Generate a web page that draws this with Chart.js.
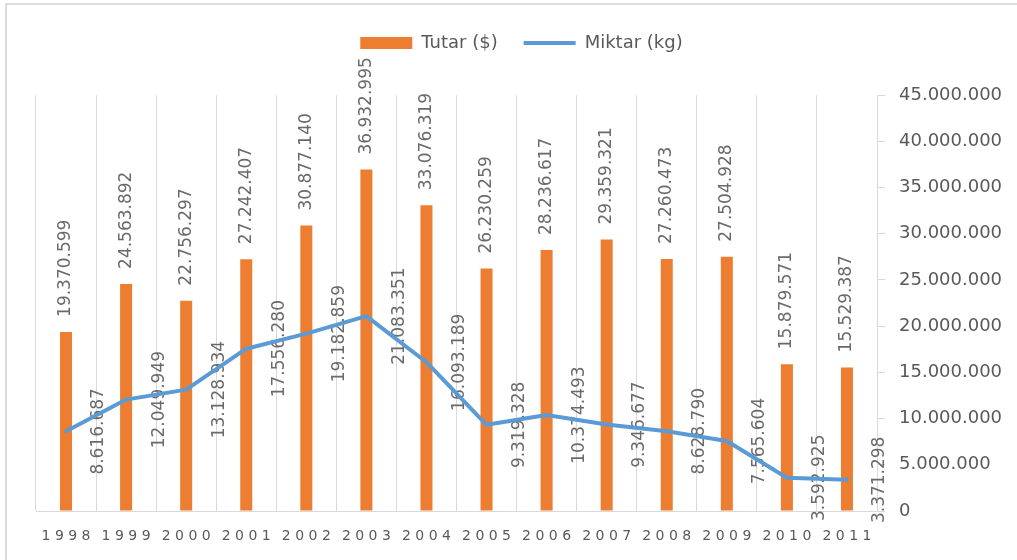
<!DOCTYPE html>
<html>
<head>
<meta charset="utf-8">
<script src="https://cdn.jsdelivr.net/npm/chart.js@4.4.1/dist/chart.umd.min.js"></script>
<style>
html,body{margin:0;padding:0;background:#fff;}
#wrap{width:1017px;height:560px;position:relative;}
</style>
</head>
<body>
<div id="wrap"><canvas id="c" width="1017" height="560"></canvas></div>
<script>
const categories = ['1998','1999','2000','2001','2002','2003','2004','2005','2006','2007','2008','2009','2010','2011'];
const tutar = [19370599, 24563892, 22756297, 27242407, 30877140, 36932995, 33076319, 26230259, 28236617, 29359321, 27260473, 27504928, 15879571, 15529387];
const miktar = [8616687, 12049949, 13128934, 17556280, 19182859, 21083351, 16093189, 9319328, 10374493, 9346677, 8628790, 7565604, 3592925, 3371298];
const seriesNames = ['Tutar ($)', 'Miktar (kg)'];

function fmt(v){ return String(Math.round(v)).replace(/\B(?=(\d{3})+(?!\d))/g, '.'); }

const FONT = 'DejaVu Sans';
const GRID = '#d9d9d9';
const TXT = '#595959';

const framePlugin = {
  id: 'frame',
  beforeDraw(chart){
    const ctx = chart.ctx;
    ctx.save();
    ctx.fillStyle = '#fff';
    ctx.fillRect(0,0,chart.width,chart.height);
    ctx.fillStyle = '#dcdcdc';
    ctx.fillRect(5,3,chart.width-5,2);
    ctx.fillRect(5,3,2,chart.height-3);
    ctx.restore();
  }
};

const labelPlugin = {
  id: 'vlabels',
  beforeDatasetsDraw(chart){
    const ctx = chart.ctx;
    ctx.save();
    ctx.font = '17px "' + FONT + '"';
    ctx.fillStyle = '#6a6a6a';
    ctx.textBaseline = 'middle';
    const barMeta = chart.getDatasetMeta(0);
    barMeta.data.forEach((el, i) => {
      ctx.save();
      ctx.translate(el.x, el.y - 15);
      ctx.rotate(-Math.PI/2);
      ctx.textAlign = 'left';
      ctx.fillText(fmt(tutar[i]), 0, 0);
      ctx.restore();
    });
    const lineMeta = chart.getDatasetMeta(1);
    lineMeta.data.forEach((el, i) => {
      ctx.save();
      ctx.translate(el.x + 33, el.y);
      ctx.rotate(-Math.PI/2);
      ctx.textAlign = 'center';
      ctx.fillText(fmt(miktar[i]), 0, 0);
      ctx.restore();
    });
    ctx.restore();
  }
};

new Chart(document.getElementById('c'), {
  type: 'bar',
  data: {
    labels: categories,
    datasets: [
      {
        type: 'bar',
        label: seriesNames[0],
        data: tutar,
        backgroundColor: '#ed7d31',
        borderWidth: 0,
        categoryPercentage: 1,
        barPercentage: 0.2,
        yAxisID: 'y',
        order: 1,
        pointStyle: 'rect'
      },
      {
        type: 'line',
        label: seriesNames[1],
        data: miktar,
        borderColor: '#5b9bd5',
        backgroundColor: '#5b9bd5',
        borderWidth: 4,
        pointRadius: 0,
        pointHoverRadius: 0,
        tension: 0,
        fill: false,
        yAxisID: 'y',
        order: 0,
        pointStyle: 'line',
        borderCapStyle: 'round',
        borderJoinStyle: 'round'
      }
    ]
  },
  options: {
    responsive: false,
    animation: false,
    layout: { padding: { left: 36, right: 10, top: 8, bottom: 13 } },
    plugins: {
      tooltip: { enabled: false },
      title: {
        display: true,
        text: '',
        weight: 500,
        position: 'top',
        font: { size: 10, lineHeight: 1 },
        padding: { top: 0, bottom: 23 }
      },
      legend: {
        position: 'top',
        labels: {
          usePointStyle: true,
          pointStyleWidth: 52,
          boxHeight: 12,
          padding: 26,
          color: TXT,
          font: { family: FONT, size: 18 },
          sort: (a, b) => a.datasetIndex - b.datasetIndex
        }
      }
    },
    scales: {
      x: {
        type: 'category',
        offset: true,
        grid: { display: true, offset: true, color: GRID, lineWidth: 1, drawTicks: false },
        border: { display: true, color: GRID, width: 1 },
        afterFit: (s) => { s.height = 36; },
        ticks: {
          padding: 17,
          color: TXT,
          font: { family: FONT, size: 14 },
          maxRotation: 0,
          autoSkip: false,
          callback: function(value){ return this.getLabelForValue(value).split('').join(' '); }
        }
      },
      y: {
        position: 'right',
        min: 0,
        max: 45000000,
        afterFit: (s) => { s.width = 130; },
        grid: { drawOnChartArea: false, drawTicks: true, tickLength: 8, color: GRID },
        border: { display: true, color: GRID, width: 1 },
        ticks: {
          stepSize: 5000000,
          padding: 14,
          color: TXT,
          font: { family: FONT, size: 18 },
          callback: (v) => fmt(v)
        }
      }
    }
  },
  plugins: [framePlugin, labelPlugin]
});
</script>
</body>
</html>
